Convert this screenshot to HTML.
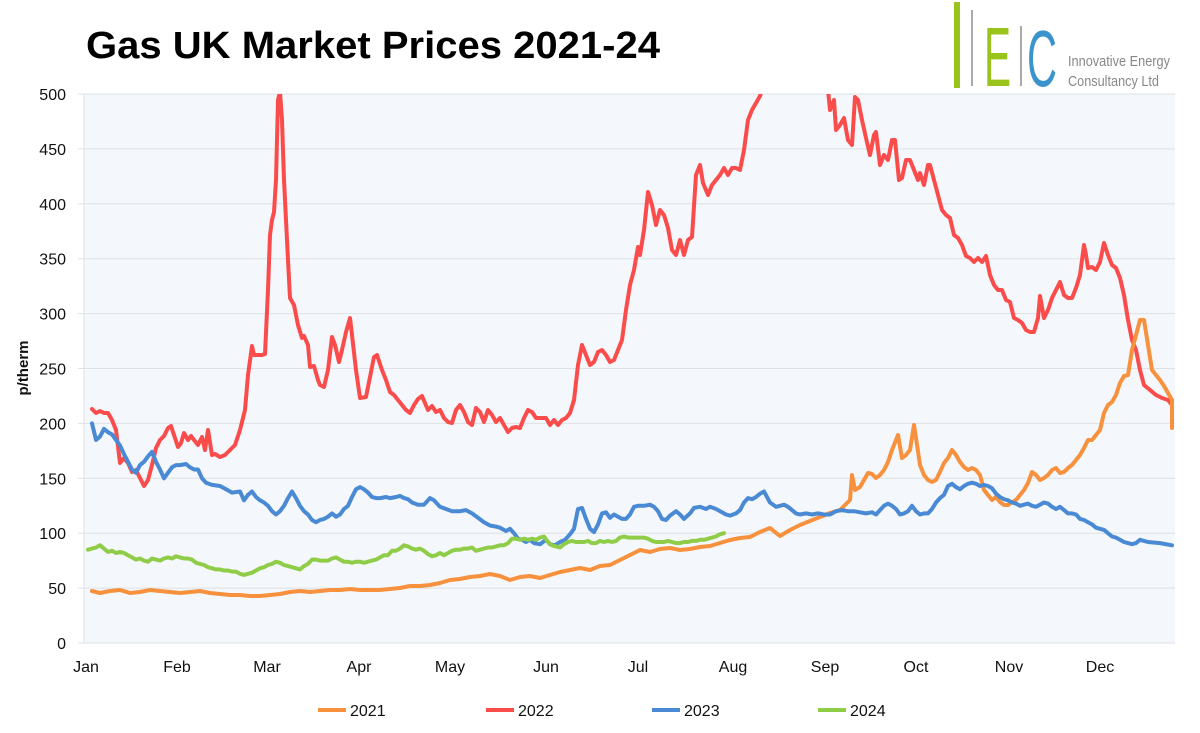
<!DOCTYPE html>
<html><head><meta charset="utf-8"><style>
body{margin:0;background:#fff;}
svg{display:block;font-family:"Liberation Sans","DejaVu Sans",sans-serif;}
</style></head><body>
<svg id="s" width="1200" height="733" viewBox="0 0 1200 733" xmlns="http://www.w3.org/2000/svg">
<rect x="84" y="94" width="1091" height="549" fill="#f4f7fb"/>
<g id="grid" stroke="#dde1e6" stroke-width="1"></g>
<g id="ylab" font-size="16" fill="#111" text-anchor="end"></g>
<g font-size="16" fill="#111" text-anchor="middle">
<text x="86" y="672">Jan</text><text x="177" y="672">Feb</text><text x="267" y="672">Mar</text><text x="359" y="672">Apr</text><text x="450" y="672">May</text><text x="546" y="672">Jun</text><text x="638" y="672">Jul</text><text x="733" y="672">Aug</text><text x="825" y="672">Sep</text><text x="916" y="672">Oct</text><text x="1009" y="672">Nov</text><text x="1100" y="672">Dec</text>
</g>
<text x="28" y="368" font-size="15" font-weight="bold" fill="#111" text-anchor="middle" transform="rotate(-90 28 368)">p/therm</text>
<text x="86" y="58" font-size="38" font-weight="bold" fill="#000" textLength="574" lengthAdjust="spacingAndGlyphs">Gas UK Market Prices 2021-24</text>
<rect x="954" y="2" width="6" height="86" fill="#9ac31c"/>
<rect x="971" y="10" width="2" height="76" fill="#aaa"/>
<text x="984" y="86" font-size="84" fill="#9ac31c" textLength="27" lengthAdjust="spacingAndGlyphs">E</text>
<rect x="1020" y="26" width="2" height="60" fill="#aaa"/>
<text x="1027" y="86" font-size="80" fill="#3b93cc" textLength="30" lengthAdjust="spacingAndGlyphs">C</text>
<text x="1068" y="66" font-size="15" fill="#888" textLength="102" lengthAdjust="spacingAndGlyphs">Innovative Energy</text>
<text x="1068" y="86" font-size="15" fill="#888" textLength="91" lengthAdjust="spacingAndGlyphs">Consultancy Ltd</text>
<defs><clipPath id="c"><rect x="80" y="94" width="1100" height="560"/></clipPath></defs>
<g id="lines" clip-path="url(#c)" fill="none" stroke-width="4" stroke-linejoin="round" stroke-linecap="round"></g>
<g font-size="16" fill="#111">
<line x1="318" y1="710" x2="346" y2="710" stroke="#f7913d" stroke-width="4"/><text x="350" y="716">2021</text>
<line x1="486" y1="710" x2="514" y2="710" stroke="#fb4c4c" stroke-width="4"/><text x="518" y="716">2022</text>
<line x1="652" y1="710" x2="680" y2="710" stroke="#4a8ad4" stroke-width="4"/><text x="684" y="716">2023</text>
<line x1="818" y1="710" x2="846" y2="710" stroke="#8fcd48" stroke-width="4"/><text x="850" y="716">2024</text>
</g>
</svg>
<script>
var NS="http://www.w3.org/2000/svg";
function Y(v){return 643-v*1.098;}
var g=document.getElementById("grid"),yl=document.getElementById("ylab");
for(var v=0;v<=500;v+=50){var y=Y(v);var l=document.createElementNS(NS,"line");l.setAttribute("x1",78);l.setAttribute("x2",1175);l.setAttribute("y1",y);l.setAttribute("y2",y);g.appendChild(l);
var t=document.createElementNS(NS,"text");t.setAttribute("x",66);t.setAttribute("y",y+6);t.textContent=v;yl.appendChild(t);}
var vl=document.createElementNS(NS,"line");vl.setAttribute("x1",84);vl.setAttribute("x2",84);vl.setAttribute("y1",94);vl.setAttribute("y2",643);g.appendChild(vl);
var red="92,409 96,413 100,411 104,413 108,413 112,420 116,430 120,463 124,458 128,463 132,472 136,470 140,478 144,486 148,480 152,465 156,448 160,440 164,436 168,428 171,426 174,435 178,447 181,443 184,433 188,440 191,436 194,440 198,445 202,437 205,450 208,430 212,455 215,454 220,457 225,455 230,450 235,445 240,430 245,410 248,375 252,346 254,355 262,355 265,354 268,290 270,235 272,220 274,212 276,180 278,100 280,92 282,120 284,180 288,260 290,298 294,305 298,325 302,338 304,336 308,345 310,367 314,366 318,380 320,385 324,387 328,370 332,337 335,345 339,362 342,350 346,332 350,318 352,335 356,370 360,398 366,397 370,377 374,357 377,355 382,370 386,380 390,392 394,395 398,400 402,405 406,410 410,413 414,405 418,399 422,396 428,410 432,406 436,412 440,410 444,418 448,422 452,423 456,410 460,405 464,412 468,422 472,425 476,408 480,412 484,422 488,410 492,415 496,422 500,418 504,425 508,432 512,428 516,427 520,428 524,418 528,410 532,412 536,418 540,418 546,418 550,425 554,420 558,425 562,420 566,418 570,413 574,400 578,365 582,345 586,355 590,365 594,362 598,352 602,350 606,355 610,362 614,360 618,350 622,340 626,310 630,285 634,270 638,247 640,255 644,230 648,192 652,205 656,225 660,210 664,215 668,228 672,250 676,255 680,240 684,255 688,240 692,237 696,175 700,165 703,183 708,195 712,185 716,180 720,175 724,168 728,175 732,168 736,168 740,170 744,150 748,120 752,110 756,103 760,96 762,90 790,60 828,90 830,110 834,100 836,130 840,125 844,118 848,140 852,145 855,97 858,100 862,120 866,138 870,155 874,135 876,132 880,165 884,155 888,160 892,140 895,140 899,180 902,178 906,160 910,160 914,170 918,180 920,173 924,185 928,165 930,165 934,180 938,195 942,210 946,215 950,218 954,235 958,238 962,245 966,256 970,258 974,262 978,258 982,262 986,256 990,275 994,285 998,290 1002,290 1006,300 1010,302 1014,318 1018,320 1022,323 1026,330 1030,332 1034,332 1038,318 1040,296 1044,318 1048,310 1052,298 1056,290 1060,282 1064,295 1068,298 1072,298 1076,288 1080,275 1084,245 1086,255 1088,268 1092,267 1096,270 1100,262 1104,243 1108,255 1112,265 1116,268 1120,278 1124,295 1128,320 1132,340 1136,350 1140,370 1144,385 1150,390 1156,395 1162,398 1168,400 1172,405";
var orange="92,591 100,593 110,591 120,590 130,593 140,592 150,590 160,591 170,592 180,593 190,592 200,591 210,593 220,594 230,595 240,595 250,596 260,596 270,595 280,594 290,592 300,591 310,592 320,591 330,590 340,590 350,589 360,590 370,590 380,590 390,589 400,588 410,586 420,586 430,585 440,583 450,580 460,579 470,577 480,576 490,574 500,576 510,580 520,577 530,576 540,578 550,575 560,572 570,570 580,568 590,570 600,566 610,565 620,560 630,555 640,550 650,552 660,549 670,548 680,550 690,549 700,547 710,546 720,543 730,540 740,538 750,537 760,532 770,528 780,536 790,530 800,525 810,521 820,517 830,513 840,510 845,505 850,500 852,475 855,490 860,487 864,480 868,473 872,474 876,478 880,475 884,470 888,462 892,450 896,440 898,435 902,458 906,455 910,450 914,425 916,438 920,465 924,475 928,480 932,482 936,480 940,472 944,463 948,458 952,450 956,455 960,462 964,467 968,470 972,468 976,470 980,475 984,490 988,495 992,500 996,497 1000,502 1004,505 1008,505 1012,502 1016,500 1020,495 1024,490 1028,483 1032,472 1036,475 1040,480 1044,478 1048,475 1052,470 1056,468 1060,473 1064,472 1068,468 1072,465 1076,460 1080,455 1084,448 1088,440 1092,440 1096,435 1100,430 1104,413 1108,405 1112,402 1116,395 1120,383 1124,376 1128,375 1132,350 1136,335 1140,320 1144,320 1148,345 1152,370 1156,375 1160,380 1164,386 1168,393 1172,400 1172,428";
var blue="92:200,96:185,100:188,104:195,108:192,112:190,116:185,120:180,124:172,128:165,132:158,136:155,140:162,144:165,148:170,152:174,156:165,160:158,164:150,168:155,172:160,176:162,180:162,186:163,190:160,194:158,198:158,202:150,206:146,212:144,220:143,226:140,232:137,240:138,244:130,248:135,252:138,256:133,260:130,264:128,268:125,272:120,276:117,280:120,284:125,288:132,292:138,296:132,300:125,304:120,308:117,312:112,316:110,320:112,324:113,328:115,332:118,336:115,340:117,344:122,348:125,352:133,356:140,360:142,364:140,368:137,372:133,376:132,380:132,386:133,390:132,396:133,400:134,404:132,408:131,412:128,418:126,424:126,430:132,434:130,440:124,446:122,452:120,460:120,466:121,472:118,478:114,484:110,490:107,496:106,500:105,506:102,510:104,514:100,518:95,522:94,526:92,530:94,534:91,540:90,546:94,550:90,555:89,560:92,565:94,570:99,574:104,578:122,582:123,586:113,590:104,594:101,598:108,602:118,606:119,610:114,614:117,618:115,622:113,626:113,630:117,634:124,638:125,644:125,650:126,654:124,658:120,662:113,666:112,670:116,676:120,680:117,684:113,690:118,694:123,700:124,706:122,710:124,716:122,722:119,726:117,730:116,736:118,740:121,744:128,748:132,752:131,756:133,760:136,764:138,770:128,776:124,780:125,784:126,788:124,792:121,796:118,800:117,806:118,812:117,818:118,824:117,830:117,836:120,842:121,848:120,854:120,860:119,866:118,872:119,876:117,880:121,884:125,888:127,892:125,896:122,900:117,904:118,908:120,912:125,916:120,920:117,924:118,928:118,932:122,936:128,940:132,944:135,948:143,952:145,956:142,960:140,964:143,968:145,972:146,976:145,980:143,984:144,988:143,992:141,996:136,1000:133,1004:131,1008:130,1012:128,1016:127,1020:125,1024:126,1028:127,1032:125,1036:124,1040:126,1044:128,1048:127,1052:124,1056:122,1060:124,1064:121,1068:118,1072:118,1076:117,1080:113,1084:112,1088:110,1092:108,1096:105,1100:104,1104:103,1108:100,1112:97,1116:96,1120:94,1124:92,1128:91,1132:90,1136:91,1140:94,1144:93,1148:92,1160:91,1172:89";
var green="88:85,92:86,96:87,100:89,104:86,108:83,112:84,116:82,120:83,124:82,128:80,132:78,136:76,140:77,144:75,148:74,152:77,156:76,160:75,164:77,168:78,172:77,176:79,180:78,184:77,188:77,192:76,196:73,200:72,204:71,208:69,212:68,216:67,220:67,224:66,228:66,232:65,236:65,240:63,244:62,248:63,252:64,256:66,260:68,264:69,268:71,272:72,276:74,280:73,284:71,288:70,292:69,296:68,300:67,304:70,308:72,312:76,316:76,320:75,324:75,328:75,332:77,336:78,340:76,344:74,348:74,352:73,356:74,360:74,364:73,368:74,372:75,376:76,380:78,384:80,388:80,392:84,396:84,400:86,404:89,408:88,412:86,416:85,420:86,424:84,428:81,432:79,436:80,440:82,444:80,448:82,452:84,456:85,460:85,464:86,468:86,472:87,476:84,480:85,484:86,488:87,492:87,496:88,500:89,504:89,508:91,512:95,516:95,520:94,524:95,528:94,532:95,536:94,540:96,544:97,548:92,552:89,556:88,560:87,564:90,568:92,572:93,576:92,580:92,584:92,588:93,592:91,596:91,600:93,604:92,608:93,612:92,616:93,620:96,624:97,628:96,632:96,636:96,640:96,644:96,648:95,652:93,656:92,660:92,664:92,668:93,672:92,676:91,680:91,684:92,688:92,692:93,696:93,700:94,704:94,708:95,712:96,716:97,720:99,724:100";
function conv(s){return s.split(",").map(function(p){var a=p.split(":");return a[0]+","+Y(+a[1]).toFixed(1);}).join(" ");}
var L=document.getElementById("lines");
function add(pts,c){var p=document.createElementNS(NS,"polyline");p.setAttribute("points",pts);p.setAttribute("stroke",c);L.appendChild(p);}
add(red,"#fb4c4c");add(orange,"#f7913d");add(conv(blue),"#4a8ad4");add(conv(green),"#8fcd48");
</script>
</body></html>
